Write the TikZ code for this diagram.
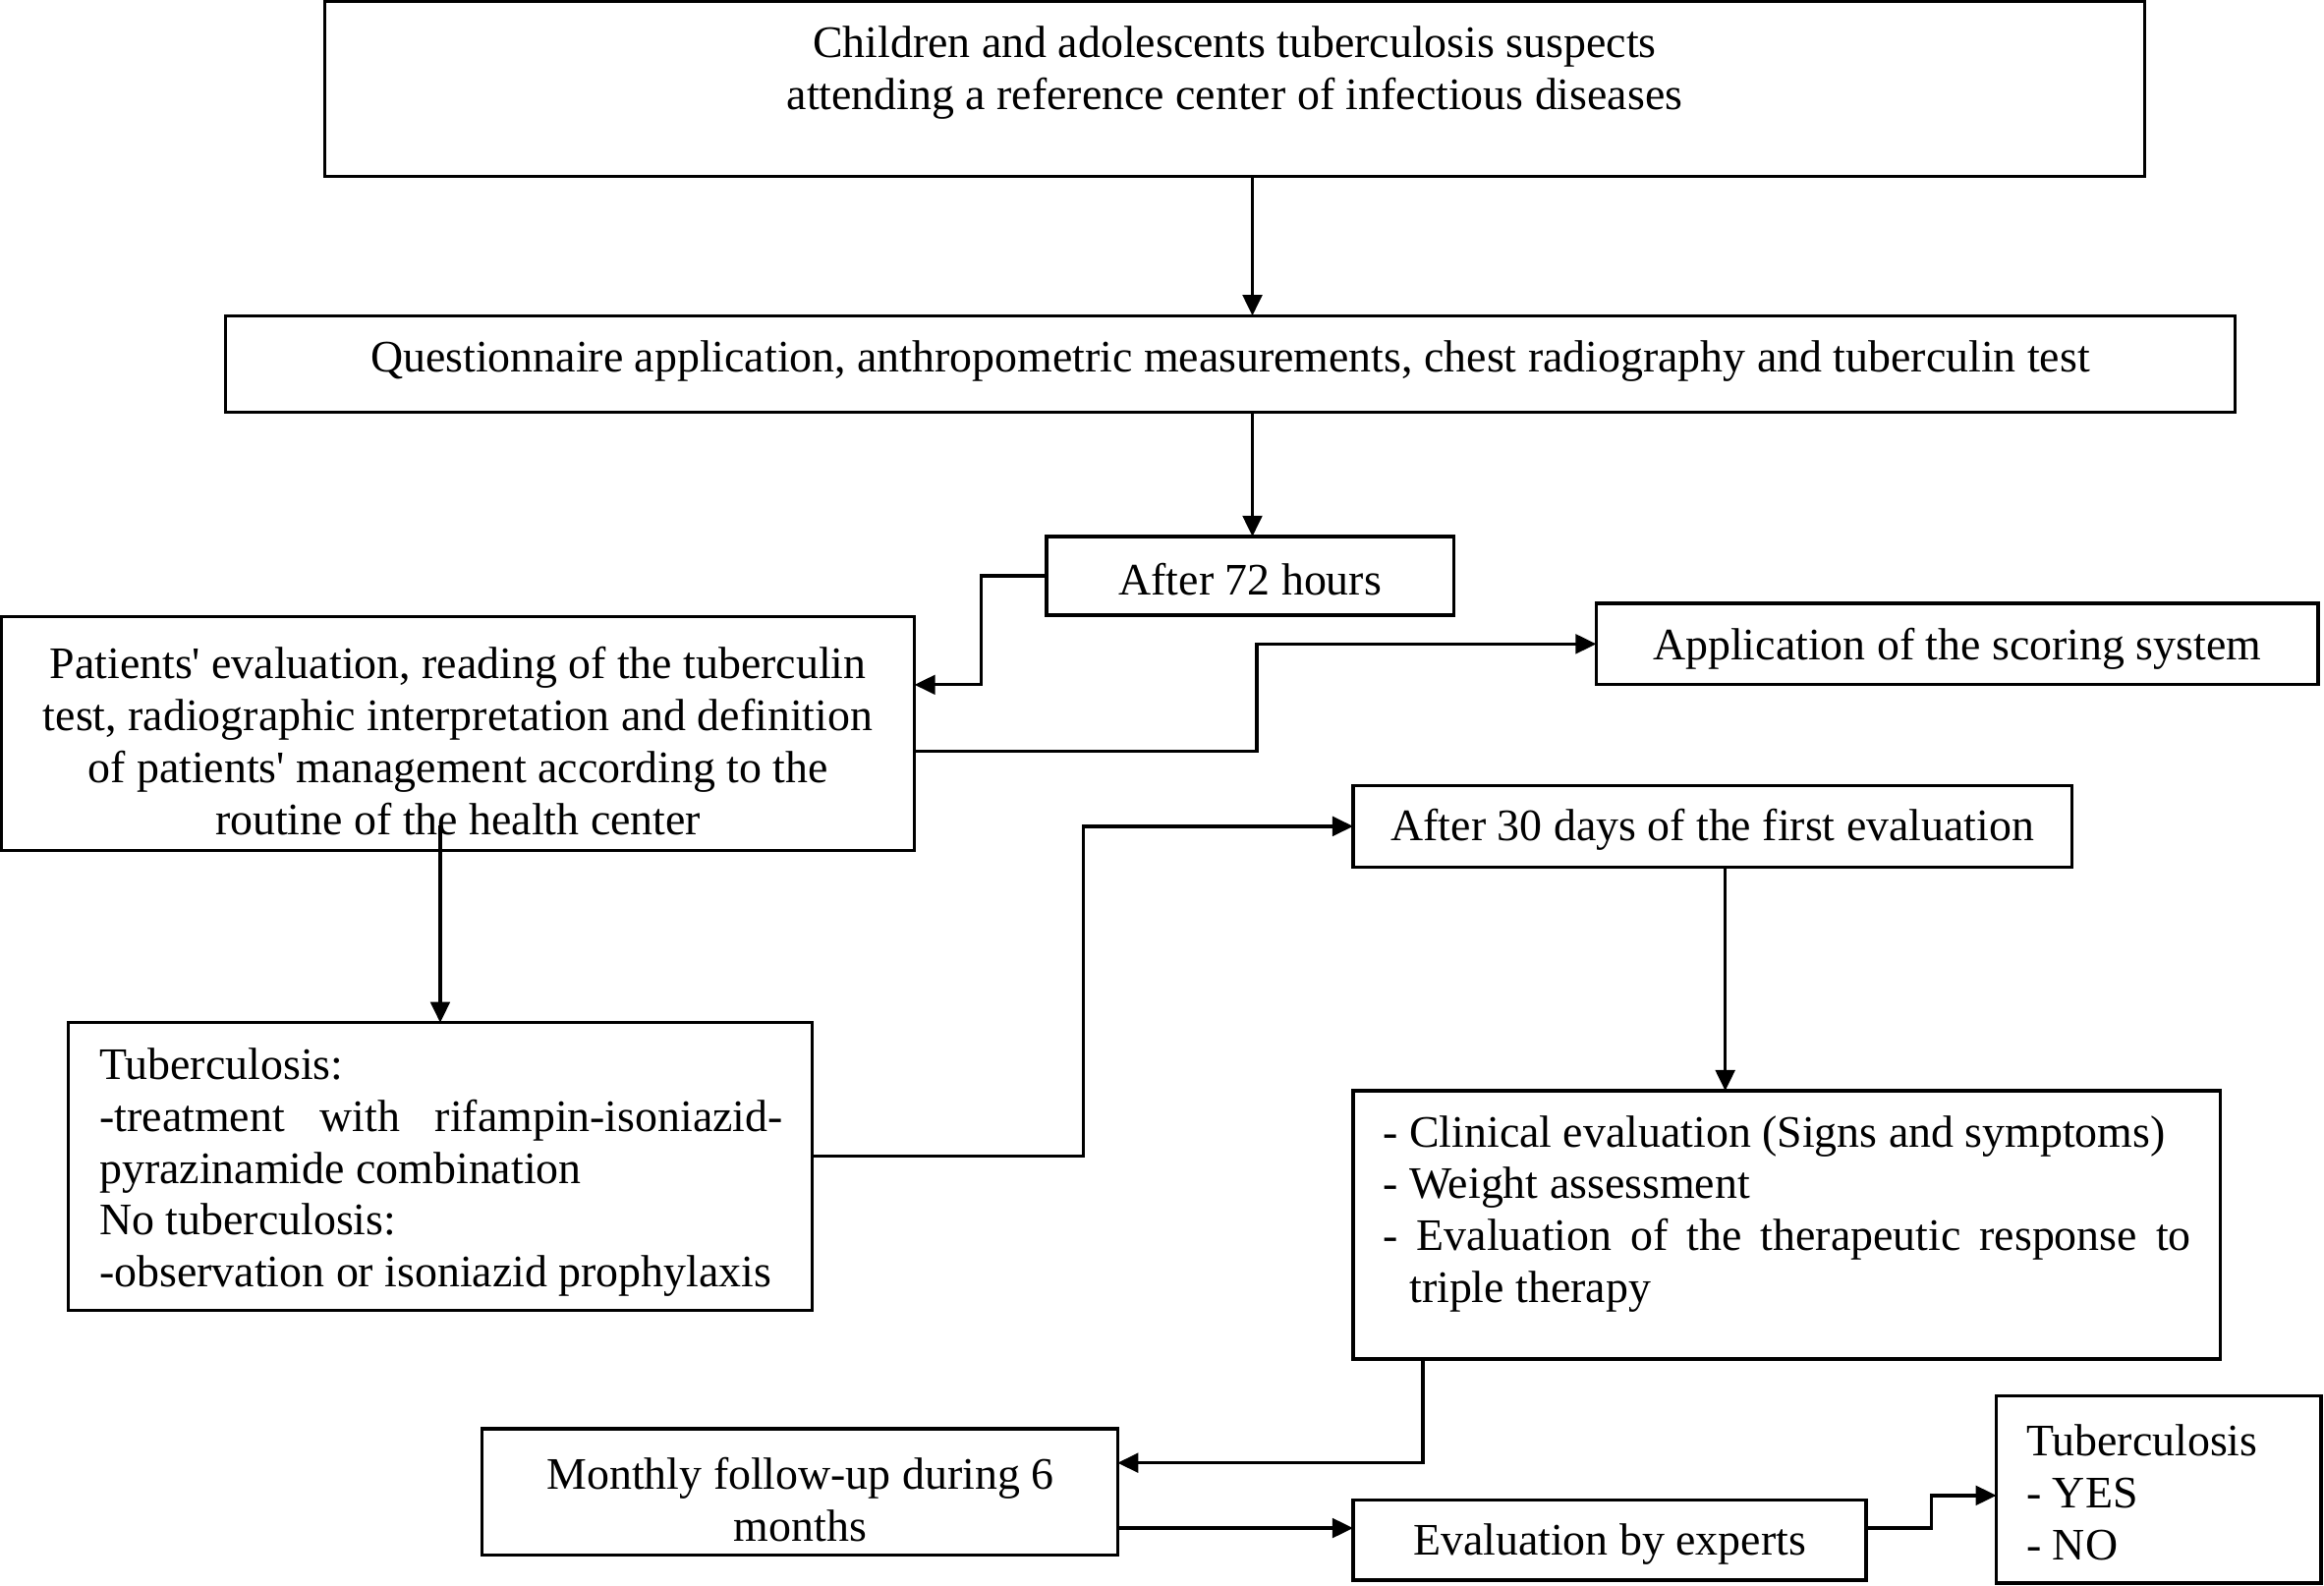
\documentclass[tikz,border=0pt]{standalone}
\usepackage{fontspec}
\newfontfamily\tnr{Liberation Serif}
\usetikzlibrary{arrows.meta}
\begin{document}
\begin{tikzpicture}[x=1pt,y=-1pt,
  box/.style={draw,line width=2.2pt,inner sep=0pt,outer sep=0pt},
  txt/.style={inner sep=0pt,font=\tnr\fontsize{30.4}{35}\selectfont},
  arr/.style={line width=2.2pt,-{Triangle[length=14pt,width=13pt]}}]
\useasboundingbox (0,0) rectangle (1568,1070);
% boxes
\node[box,minimum width=1228pt,minimum height=118pt] (A) at (833,60) {};
\node[box,minimum width=1356pt,minimum height=65pt] (B) at (830,245.5) {};
\node[box,minimum width=275pt,minimum height=53pt] (C) at (843.5,388.5) {};
\node[box,minimum width=616pt,minimum height=158pt] (D) at (309,495) {};
\node[box,minimum width=487pt,minimum height=55pt] (E) at (1320.5,434.5) {};
\node[box,minimum width=502pt,minimum height=194pt] (F) at (297,787) {};
\node[box,minimum width=485pt,minimum height=55pt] (G) at (1155.5,557.5) {};
\node[box,minimum width=585pt,minimum height=181pt] (H) at (1205.5,826.5) {};
\node[box,minimum width=429pt,minimum height=85pt] (I) at (539.5,1006.5) {};
\node[box,minimum width=346pt,minimum height=54pt] (J) at (1086,1039) {};
\node[box,minimum width=219pt,minimum height=126pt] (K) at (1456.5,1005) {};
% texts
\node[txt,align=center] (tA) at (833,49) {Children and adolescents tuberculosis suspects\\attending a reference center of infectious diseases};
\node[txt] (tB) at (830,244) {Questionnaire application, anthropometric measurements, chest radiography and tuberculin test};
\node[txt] (tC) at (843.5,391) {After 72 hours};
\node[txt,align=center] (tD) at (309,500) {Patients' evaluation, reading of the tuberculin\\test, radiographic interpretation and definition\\of patients' management according to the\\routine of the health center};
\node[txt] (tE) at (1320.5,438) {Application of the scoring system};
\node[txt,align=left,anchor=west] (tF) at (67,791) {Tuberculosis:\\\makebox[461pt][s]{-treatment with rifampin-isoniazid-}\\pyrazinamide combination\\No tuberculosis:\\-observation or isoniazid prophylaxis};
\node[txt] (tG) at (1155.5,560) {After 30 days of the first evaluation};
\node[txt,align=left,anchor=west] (tH) at (933,819) {- Clinical evaluation (Signs and symptoms)\\- Weight assessment\\\makebox[545pt][s]{- Evaluation of the therapeutic response to}\\\phantom{- }triple therapy};
\node[txt,align=center] (tI) at (540,1012) {Monthly follow-up during 6\\months};
\node[txt] (tJ) at (1086,1042) {Evaluation by experts};
\node[txt,align=left,anchor=west] (tK) at (1367,1007) {Tuberculosis\\- YES\\- NO};
% connectors
\coordinate (Din) at (297,557);
\draw[arr] (A.south -| 845,0) -- (B.north -| 845,0);
\draw[arr] (B.south -| 845,0) -- (C.north -| 845,0);
\draw[arr] (C.west) -| (662,462) -- (D.east |- 662,462);
\draw[arr] (D.east |- 0,507) -- (848,507) |- (E.west);
\draw[arr] (Din) -- (F.north);
\draw[arr] (F.east |- 0,780) -- (731,780) |- (G.west);
\draw[arr] (G.south -| 1164,0) -- (H.north -| 1164,0);
\draw[arr] (H.south -| 960,0) |- (I.east |- 0,987);
\draw[arr] (I.east |- 0,1031) -- (J.west |- 0,1031);
\draw[arr] (J.east |- 0,1031) -- (1303,1031) |- (K.west |- 0,1009);
\end{tikzpicture}
\end{document}
